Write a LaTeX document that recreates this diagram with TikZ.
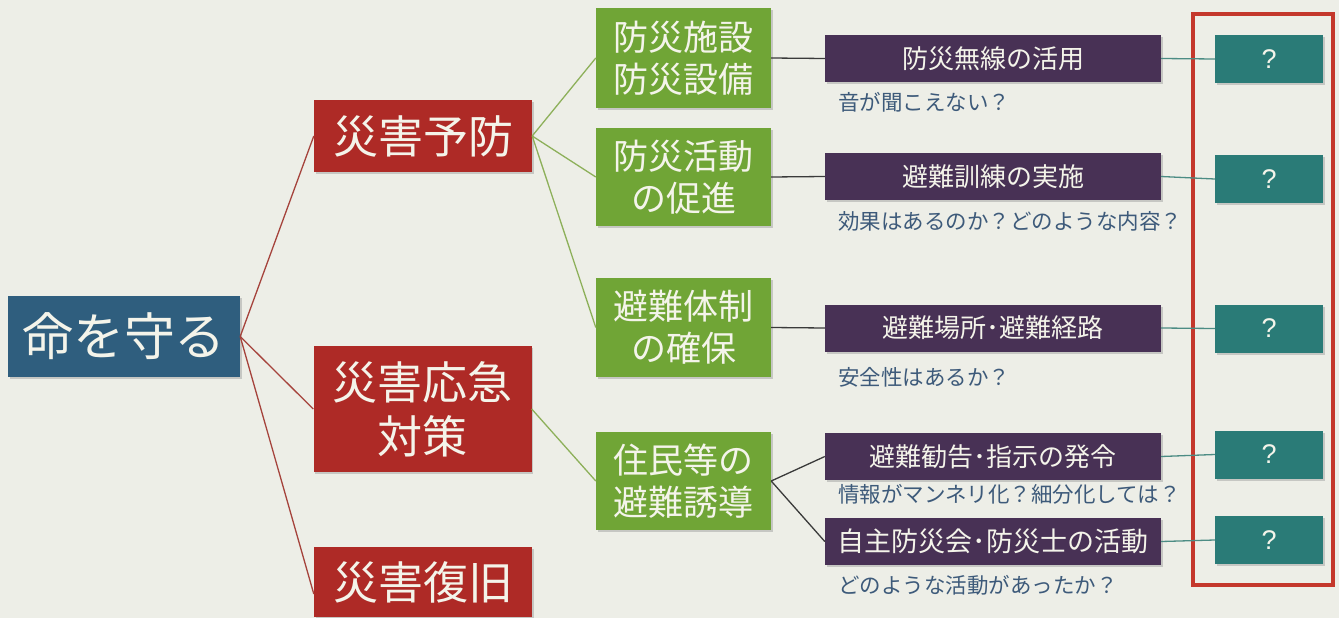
\documentclass[tikz,border=0pt]{standalone}
\usepackage{fontspec}
\setmainfont{Noto Sans CJK JP}
\newfontfamily\qfont{Liberation Sans}
\usetikzlibrary{shadows}
\definecolor{bg}{HTML}{EDEEE7}
\definecolor{lifeblue}{HTML}{2F5E7E}
\definecolor{redbox}{HTML}{AE2A26}
\definecolor{greenbox}{HTML}{70A536}
\definecolor{purplebox}{HTML}{483155}
\definecolor{tealbox}{HTML}{2A7B77}
\definecolor{redline}{HTML}{A5433C}
\definecolor{greenline}{HTML}{8DB05A}
\definecolor{darkline}{HTML}{3A3A3A}
\definecolor{tealline}{HTML}{4C8C84}
\definecolor{captxt}{HTML}{3D5A7A}
\definecolor{frame}{HTML}{C4382C}
\definecolor{boxtxt}{HTML}{F4F4EA}
\tikzset{
  box/.style={inner sep=0pt, text=boxtxt, align=center,
    drop shadow={shadow xshift=1.5pt, shadow yshift=-2pt, opacity=0.35}},
  lifebox/.style={box, fill=lifeblue, minimum width=232, minimum height=81,
    font=\fontsize{51}{56}\selectfont},
  catbox/.style={box, fill=redbox, minimum width=218,
    font=\fontsize{45}{54}\selectfont},
  measbox/.style={box, fill=greenbox, minimum width=175,
    font=\fontsize{35}{42}\selectfont},
  itembox/.style={box, fill=purplebox, minimum width=336, minimum height=47,
    font=\fontsize{26}{28}\selectfont},
  qbox/.style={box, fill=tealbox, minimum width=108, minimum height=48,
    font=\qfont\fontsize{27}{30}\selectfont},
  caption/.style={anchor=west, inner sep=0pt, text=captxt,
    font=\fontsize{21.5}{24}\selectfont},
  redlink/.style={draw=redline, line width=1.3pt},
  greenlink/.style={draw=greenline, line width=1.3pt},
  darklink/.style={draw=darkline, line width=1.3pt},
  teallink/.style={draw=tealline, line width=1.3pt},
}
\begin{document}
\begin{tikzpicture}[x=1pt,y=-1pt]
\fill[bg] (0,0) rectangle (1339,618);
\useasboundingbox (0,0) rectangle (1339,618);

% nodes
\node[lifebox] (life) at (124,336.5) {命を守る};

\node[catbox, minimum height=72] (r1) at (423,136) {災害予防};
\node[catbox, minimum height=126] (r2) at (422.5,409) {災害応急\\対策};
\node[catbox, minimum height=70] (r3) at (423,582) {災害復旧};

\node[measbox, minimum height=100] (g1) at (683.5,58) {防災施設\\防災設備};
\node[measbox, minimum height=98] (g2) at (683.5,177) {防災活動\\の促進};
\node[measbox, minimum height=99] (g3) at (683.5,327.5) {避難体制\\の確保};
\node[measbox, minimum height=98] (g4) at (683.5,481) {住民等の\\避難誘導};

\node[itembox] (p1) at (993,58.5) {防災無線の活用};
\node[itembox] (p2) at (993,176.5) {避難訓練の実施};
\node[itembox] (p3) at (993,328) {避難場所･避難経路};
\node[itembox] (p4) at (993,456.5) {避難勧告･指示の発令};
\node[itembox, font=\fontsize{27}{29}\selectfont] (p5) at (993,541.5) {自主防災会･防災士の活動};

\node[caption] (c1) at (838,102) {音が聞こえない？};
\node[caption] (c2) at (838,221) {効果はあるのか？どのような内容？};
\node[caption] (c3) at (838,377) {安全性はあるか？};
\node[caption] (c4) at (838,494) {情報がマンネリ化？細分化しては？};
\node[caption] (c5) at (838,585) {どのような活動があったか？};

\node[qbox] (t1) at (1269,59) {?};
\node[qbox] (t2) at (1269,179) {?};
\node[qbox] (t3) at (1269,328.5) {?};
\node[qbox] (t4) at (1269,454.5) {?};
\node[qbox] (t5) at (1269,540) {?};

% red frame
\draw[frame, line width=3.5pt] (1193,14) rectangle (1333,585);

% connectors
\draw[redlink] (life.east) -- (r1.west);
\draw[redlink] (life.east) -- (r2.west);
\draw[redlink] (life.east) -- ([yshift=-12]r3.west);

\draw[greenlink] (r1.east) -- (g1.west);
\draw[greenlink] (r1.east) -- (g2.west);
\draw[greenlink] (r1.east) -- (g3.west);
\draw[greenlink] (r2.east) -- (g4.west);

\draw[darklink] (g1.east) -- (p1.west);
\draw[darklink] (g2.east) -- (p2.west);
\draw[darklink] (g3.east) -- (p3.west);
\draw[darklink] (g4.east) -- (p4.west);
\draw[darklink] (g4.east) -- (p5.west);

\draw[teallink] (p1.east) -- (t1.west);
\draw[teallink] (p2.east) -- (t2.west);
\draw[teallink] (p3.east) -- (t3.west);
\draw[teallink] (p4.east) -- (t4.west);
\draw[teallink] (p5.east) -- (t5.west);
\end{tikzpicture}
\end{document}
